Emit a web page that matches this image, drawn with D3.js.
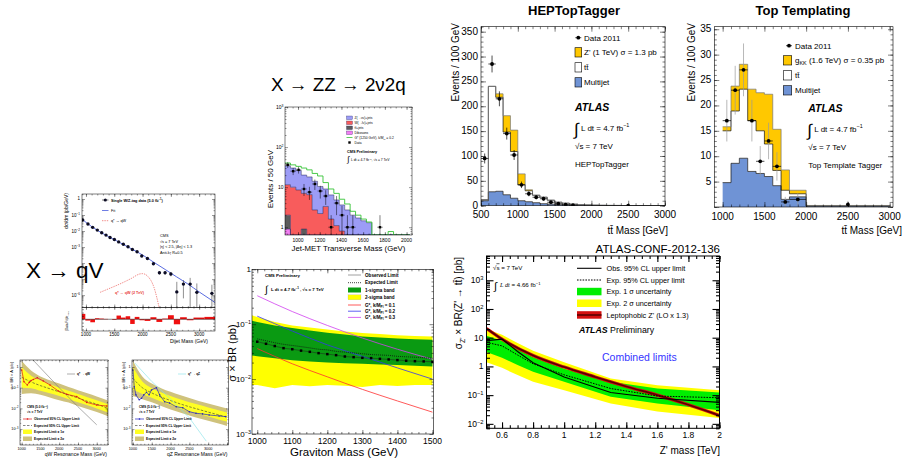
<!DOCTYPE html>
<html>
<head>
<meta charset="utf-8">
<script src="https://cdn.jsdelivr.net/npm/d3@7"></script>
<style>
  html, body { margin: 0; padding: 0; background: #fff; }
  svg { display: block; font-family: "Liberation Sans", Arial, sans-serif; }
</style>
</head>
<body>
<svg id="slide" width="909" height="458"></svg>
<script>
// ================= data =================
// CMS dijet search, single W/Z-tag (X -> qV)
const dijetMass    = [942,1035,1118,1200,1278,1354,1425,1502,1578,1660,1743,1820,1903,1986,2086,2192,2298,2398,2500,2605,2722,2841,2959,3225];
const dijetXsec    = [4.9e-2,2.75e-2,1.7e-2,1.15e-2,7.9e-3,5.6e-3,4.0e-3,3.0e-3,2.1e-3,1.5e-3,1.05e-3,7.0e-4,5.1e-4,2.8e-4,1.95e-4,9.1e-5,2.5e-5,2.5e-5,2.1e-5,1.6e-6,4.9e-6,4.9e-6,1.5e-6,1.3e-6];
const dijetErrHi   = [4.9e-2,2.75e-2,1.7e-2,1.15e-2,7.9e-3,5.6e-3,4.0e-3,3.0e-3,2.1e-3,1.5e-3,1.05e-3,7.0e-4,5.1e-4,2.8e-4,1.95e-4,1.1e-4,3.2e-5,3.2e-5,2.8e-5,6.8e-6,8.7e-6,1.2e-5,5.4e-6,4.5e-6];
const dijetErrLo   = [4.9e-2,2.75e-2,1.7e-2,1.15e-2,7.9e-3,5.6e-3,4.0e-3,3.0e-3,2.1e-3,1.5e-3,1.05e-3,7.0e-4,5.1e-4,2.8e-4,1.95e-4,7.5e-5,1.9e-5,1.9e-5,1.5e-5,1e-9,6.3e-7,1e-9,1e-9,1e-9];
const dijetPull    = [1.6,-0.4,-0.9,0.3,0.2,0.1,0.0,-0.2,1.1,0.5,0.9,-1.4,0.7,-0.3,-0.5,0.6,-0.8,0.2,1.2,-1.5,0.6,-0.3,0.5,0.7];
const dijetFitMass = [930,1000,1200,1400,1600,1800,2000,2200,2400,2600,2800,3000,3280];
const dijetFit     = [5.6e-2,3.5e-2,1.12e-2,4.5e-3,1.9e-3,7.9e-4,3.2e-4,1.12e-4,4.0e-5,1.4e-5,5.0e-6,1.6e-6,3.5e-7];
const qstarMass    = [1250,1400,1600,1800,1950,2000,2100,2200,2300];
const qstarXsec    = [1.5e-6,2.5e-6,5.0e-6,1.1e-5,2.1e-5,2.2e-5,1.4e-5,3.2e-6,1.3e-7];
const dijetYLabels = [0,-1,-2,-3,-6];   // decade labels left of the frame

// CMS q* -> qW limits
const qwMass    = [1000,1250,1500,1750,2000,2250,2500,2750,3000,3300];
const qwExp     = [0.32,0.19,0.126,0.089,0.063,0.045,0.032,0.022,0.016,0.010];
const qw1Hi     = [1.0,0.38,0.22,0.148,0.10,0.071,0.05,0.035,0.025,0.016];
const qw1Lo     = [0.10,0.095,0.071,0.054,0.04,0.028,0.02,0.014,0.010,0.0063];
const qw2Hi     = [2.0,0.68,0.35,0.23,0.16,0.107,0.076,0.054,0.038,0.024];
const qw2Lo     = [0.05,0.054,0.045,0.034,0.025,0.019,0.013,0.0093,0.0066,0.0042];
const qwObsMass = [1000,1061,1149,1200,1250,1309,1416,1576,1755,1976,2200,2467,2733,3000,3267];
const qwObs     = [0.72,0.195,0.135,0.18,0.22,0.25,0.30,0.21,0.135,0.069,0.048,0.037,0.0195,0.0145,0.013];
const qwThMass  = [1300,1600,2000,2500,3000];
const qwTh      = [2.2,0.58,0.10,0.012,0.0016];

// CMS q* -> qZ limits
const qzMass    = [1000,1250,1500,1750,2000,2250,2500,2750,3000,3250,3500];
const qzExp     = [0.28,0.10,0.056,0.035,0.024,0.0166,0.012,0.0089,0.0066,0.0050,0.0038];
const qz1Hi     = [1.0,0.20,0.095,0.059,0.040,0.0275,0.020,0.0148,0.011,0.0083,0.0063];
const qz1Lo     = [0.079,0.05,0.033,0.0214,0.0145,0.010,0.0072,0.0054,0.0040,0.0030,0.0023];
const qz2Hi     = [2.0,0.35,0.158,0.095,0.063,0.044,0.032,0.023,0.0174,0.0132,0.010];
const qz2Lo     = [0.040,0.028,0.020,0.0132,0.0089,0.0063,0.0045,0.0033,0.0025,0.0019,0.0014];
const qzObsMass = [1000,1034,1079,1166,1229,1290,1361,1429,1492,1624,1710,1842,1974,2150,2324,2500,2676,2850,3026,3290,3466];
const qzObs     = [0.72,0.112,0.045,0.026,0.031,0.045,0.060,0.045,0.078,0.10,0.045,0.021,0.018,0.012,0.0107,0.0069,0.0058,0.0054,0.0048,0.0043,0.0040];
const qzThMass  = [1050,1500,2000,2500,2950];
const qzTh      = [1.55,0.20,0.028,0.0035,0.00026];

// CMS ZZ -> 2nu2q, jet-MET transverse mass (50 GeV bins)
const zzEdges   = [880,930,980,1030,1080,1130,1180,1230,1280,1330,1380,1430,1480,1530,1580,1630,1680,1730,1780,1830,1880,1930,1980,2030];
const zzZjets   = [22.5,20,17.5,13,11.5,11.3,8.2,5.7,4.8,3.7,2.8,2.1,1.7,1.7,1.45,1.3,0,0,0,0,0,0,0];
const zzWjets   = [9.5,10,8.5,6.1,6.5,2.7,2.2,3.3,1.6,1.1,0.8,0.6,0.3,0,0,0,0,0,0,0,0,0,0];
const zzTtbar   = [1.1,0,0,0.9,0,0,0,0,0,0,0,0,0,0,0,0,0,0,0,0,0,0,0];
const zzDiboson = [0.9,0,0,0,0,0,0,0,0,0,0,0,0,0,0,0,0,0,0,0,0,0,0];
const zzSignal  = [6,6,7,10,9,8,8.6,4,2.6,2.2,1.4,1.1,0.5,0.3,0.15,0.05,0,0,0,0.78,0,0,0];
const zzData    = [36,25,27,9,7.5,12,8,6,1,4,2,1,1,0,0,0,0,1,0,0,0,0,0];
const zzDataErr = [6,5,5.2,3,2.7,3.5,2.8,2.4,1,2,1.4,1,1,0,0,0,0,1,0,0,0,0,0];

// CMS graviton limits
const gravMass    = [1000,1025,1050,1075,1100,1125,1150,1175,1200,1225,1250,1275,1300,1325,1350,1375,1400,1425,1450,1475,1500];
const gravObs     = [0.048,0.044,0.040,0.0366,0.035,0.033,0.0314,0.0297,0.0285,0.0273,0.0258,0.0251,0.0244,0.0241,0.0234,0.0228,0.0222,0.0216,0.0212,0.021,0.0207];
const gravExp     = [0.054,0.050,0.046,0.043,0.041,0.039,0.037,0.035,0.034,0.032,0.031,0.030,0.029,0.028,0.0275,0.027,0.026,0.0255,0.025,0.0245,0.024];
const gravBandMass= [985,1000,1050,1100,1150,1200,1250,1300,1350,1400,1450,1500];
const grav1Hi     = [0.115,0.11,0.095,0.085,0.077,0.07,0.065,0.06,0.057,0.055,0.053,0.052];
const grav1Lo     = [0.027,0.026,0.024,0.022,0.021,0.02,0.0195,0.019,0.0185,0.018,0.0175,0.017];
const grav2Hi     = [0.145,0.135,0.11,0.095,0.087,0.08,0.074,0.069,0.066,0.063,0.061,0.06];
const grav2Lo     = [0.0078,0.0078,0.0068,0.0078,0.0074,0.0078,0.0076,0.0072,0.0078,0.0075,0.0078,0.0078];
const gravThMass  = [1000,1100,1200,1300,1400,1500];
const gravK01     = [0.036,0.019,0.011,0.0065,0.004,0.0025];
const gravK02     = [0.14,0.075,0.042,0.026,0.016,0.010];
const gravK03     = [0.33,0.17,0.095,0.056,0.035,0.023];

// ATLAS HEPTopTagger (100 GeV bins)
const hepEdges    = [500,600,700,800,900,1000,1100,1200,1300,1400,1500,1600,1700,1800,1900,2000,2100,2200,2300,2400,2500,2600,2700,2800,2900,3000];
const hepMultijet = [10,28,29,22,15,10,8,6,4,3,2,1.5,1,0.8,0.6,0.5,0.4,0.3,0.3,0.2,0.2,0.2,0.1,0.1,0.1];
const hepTtbar    = [2,212,189,126,94,32,22,15,13,8,5,3.5,2,1.2,0.9,0.5,0.4,0.3,0.2,0.2,0.1,0.1,0.1,0.1,0.1];
const hepZprime   = [0,0,7,33,43,22,2,0,0,0,0,0,0,0,0,0,0,0,0,0,0,0,0,0,0];
const hepDataMass = [550,650,750,850,950,1050,1150,1250,1350,1450,1550,1650,1750,2500];
const hepData     = [95,285,215,145,102,42,24,17,14,7,4,2,1,0.3];
const hepDataErr  = [10,17,15,12,10,6.5,5,4,3.7,2.6,2,1.4,1,0.5];
const hepDataXErr = [50,50,50,50,50,50,50,50,50,50,50,50,50,0];

// ATLAS Top Template Tagger
const ttEdges     = [1000,1100,1200,1300,1400,1500,1600,1700,1800,1900,2000,3000];
const ttMultijet  = [4.8,8.6,9.6,7.0,6.6,6.0,4.2,1.5,2.0,2.0,0.15];
const ttTtbar     = [10.2,10.3,13.6,10.0,8.4,6.4,3.0,1.8,0.6,0.6,0.1];
const ttGkk       = [0.8,4.9,4.9,6.2,7.5,9.8,8.1,4.0,0.7,0.7,0.05];
const ttDataMass  = [1050,1150,1250,1350,1450,1550,1650,1750,1900,2500];
const ttData      = [17,23,27,17,9,13,8,1,1.5,0.5];
const ttDataErr   = [4.1,4.8,5.2,4.1,3,3.6,2.8,1,1.2,0.7];
const ttDataXErr  = [50,50,50,50,50,50,50,50,100,0];

// ATLAS Z' -> ttbar combined limits
const zpMass   = [0.5,0.6,0.7,0.8,1.0,1.3,1.6,2.0];
const zpObs    = [7.9,8.9,3.3,1.35,0.43,0.123,0.078,0.056];
const zpExp    = [6.9,5.2,2.5,1.23,0.51,0.17,0.093,0.081];
const zp1Hi    = [11.7,7.9,4.0,2.1,0.83,0.29,0.17,0.123];
const zp1Lo    = [3.2,2.0,1.12,0.65,0.29,0.087,0.051,0.030];
const zp2Hi    = [20,12.6,6.6,3.5,1.41,0.38,0.22,0.148];
const zp2Lo    = [1.41,0.89,0.5,0.29,0.148,0.051,0.027,0.016];
const zpThMass = [0.5,0.6,0.8,1.0,1.2,1.3,1.4,1.6,1.8,2.0];
const zpTh     = [21,8.9,2.4,0.95,0.43,0.29,0.2,0.1,0.046,0.0195];

// ================= helpers =================
const svg = d3.select("#slide");
svg.append("rect").attr("width", 909).attr("height", 458).attr("fill", "#fff");
const defs = svg.append("defs");
let clipN = 0;
function clipRect(x0, y0, x1, y1) {
  const id = "clip" + (clipN++);
  defs.append("clipPath").attr("id", id).append("rect")
    .attr("x", x0).attr("y", y0).attr("width", x1 - x0).attr("height", y1 - y0);
  return `url(#${id})`;
}
function T(g, x, y, s, o = {}) {
  const t = g.append("text").attr("x", x).attr("y", y)
    .attr("font-size", o.size || 8).attr("fill", o.fill || "#000")
    .attr("text-anchor", o.anchor || "start");
  if (o.weight) t.attr("font-weight", o.weight);
  if (o.italic) t.attr("font-style", "italic");
  if (o.family) t.attr("font-family", o.family);
  if (o.rotate) t.attr("transform", `rotate(${o.rotate},${x},${y})`);
  if (s !== null) t.text(s);
  return t;
}
// text built from runs: plain strings or [string, "sup"|"sub"|null, extra attributes]
function R(g, x, y, parts, o = {}) {
  const t = T(g, x, y, null, o);
  const fs = o.size || 8;
  let cur = 0;
  parts.forEach(p => {
    const [s, k, ex] = Array.isArray(p) ? p : [p, null, null];
    const target = k === "sup" ? -0.38 * fs : k === "sub" ? 0.28 * fs : 0;
    const ts = t.append("tspan").attr("dy", target - cur).text(s);
    if (k) ts.attr("font-size", fs * 0.68);
    if (ex) Object.entries(ex).forEach(([a, v]) => ts.attr(a, v));
    cur = target;
  });
  return t;
}
function pow10(g, x, y, e, size, anchor = "end") {
  if (e === 0) return T(g, x, y, "1", { size, anchor });
  if (e === 1) return T(g, x, y, "10", { size, anchor });
  return R(g, x, y, ["10", [String(e).replace("-", "\u2212"), "sup"]], { size, anchor });
}
function frame(g, x0, y0, x1, y1, sw = 0.6) {
  g.append("rect").attr("x", x0).attr("y", y0).attr("width", x1 - x0).attr("height", y1 - y0)
    .attr("fill", "none").attr("stroke", "#000").attr("stroke-width", sw);
}
function tickMarks(g, scale, orient, pos, values, len, sw = 0.5) {
  const gen = { bottom: d3.axisBottom, top: d3.axisTop, left: d3.axisLeft, right: d3.axisRight }[orient];
  const tr = (orient === "bottom" || orient === "top") ? `translate(0,${pos})` : `translate(${pos},0)`;
  g.append("g").attr("transform", tr)
    .call(gen(scale).tickValues(values).tickSizeInner(-len).tickSizeOuter(0).tickFormat(""))
    .call(a => {
      a.select(".domain").remove();
      a.selectAll("text").remove();
      a.selectAll("line").attr("stroke", "#000").attr("stroke-width", sw);
    });
}
// ticks on all four sides of a frame
function boxTicks(g, x, y, X0, Y0, X1, Y1, xs, ys, sw = 0.5) {
  xs.forEach(([vals, len]) => { tickMarks(g, x, "bottom", Y1, vals, len, sw); tickMarks(g, x, "top", Y0, vals, len, sw); });
  ys.forEach(([vals, len]) => { tickMarks(g, y, "left", X0, vals, len, sw); tickMarks(g, y, "right", X1, vals, len, sw); });
}
function logMinors(lo, hi) {
  const out = [];
  for (let e = Math.floor(Math.log10(lo)); e <= Math.ceil(Math.log10(hi)); e++)
    for (let k = 2; k < 10; k++) { const v = k * Math.pow(10, e); if (v >= lo && v <= hi) out.push(v); }
  return out;
}
function decades(lo, hi) {
  const out = [];
  for (let e = Math.ceil(Math.log10(lo) - 1e-9); e <= Math.floor(Math.log10(hi) + 1e-9); e++) out.push(e);
  return out;
}
const rng = (a, b, s) => d3.range(a, b + s * 0.001, s);
function stepPts(edges, lo, hi) {
  const pts = [];
  lo.forEach((l, i) => {
    pts.push({ x: edges[i], y0: l, y1: hi[i] });
    pts.push({ x: edges[i + 1], y0: l, y1: hi[i] });
  });
  return pts;
}

// ================= X -> qV : dijet spectrum =================
(function () {
  const g = svg.append("g");
  const X0 = 82, X1 = 215, Y0 = 194, YB = 307.5, YR = 331;
  const x = d3.scaleLinear().domain([930, 3280]).range([X0, X1]);
  const y = d3.scaleLog().domain([1.7e-7, 2.05]).range([YB, Y0]);
  const yr = d3.scaleLinear().domain([-3.5, 3.5]).range([YR, YB]);
  const pl = g.append("g").attr("clip-path", clipRect(X0, Y0, X1, YB));
  const line = d3.line().x(d => x(d[0])).y(d => y(d[1])).curve(d3.curveMonotoneX);
  pl.append("path").attr("d", line(d3.zip(dijetFitMass, dijetFit)))
    .attr("fill", "none").attr("stroke", "#3046d8").attr("stroke-width", 0.8);
  pl.append("path").attr("d", line(d3.zip(qstarMass, qstarXsec)))
    .attr("fill", "none").attr("stroke", "#e8403a").attr("stroke-width", 0.6).attr("stroke-dasharray", "1.4,1");
  dijetMass.forEach((m, i) => {
    pl.append("line").attr("x1", x(m)).attr("x2", x(m))
      .attr("y1", y(Math.max(dijetErrLo[i], 1e-8))).attr("y2", y(dijetErrHi[i]))
      .attr("stroke", "#222").attr("stroke-width", 0.5);
  });
  pl.selectAll("circle").data(dijetMass).join("circle")
    .attr("cx", d => x(d)).attr("cy", (d, i) => y(dijetXsec[i])).attr("r", 1.7).attr("fill", "#0c0c24");
  frame(g, X0, Y0, X1, YB, 0.5);
  boxTicks(g, x, y, X0, Y0, X1, YB,
    [[rng(1000, 3000, 500), 3], [rng(1000, 3200, 100), 1.5]],
    [[decades(1.7e-7, 2.05).map(e => Math.pow(10, e)), 3], [logMinors(1.7e-7, 2.05), 1.5]], 0.4);
  dijetYLabels.forEach(e => pow10(g, X0 - 2, y(Math.pow(10, e)) + 1.5, e, 4.5));

  // residual panel
  const edges = dijetMass.map((m, i) => i === 0 ? 930 : (dijetMass[i - 1] + m) / 2);
  edges.push(3280);
  dijetPull.forEach((p, i) => {
    g.append("rect").attr("x", x(edges[i])).attr("width", x(edges[i + 1]) - x(edges[i]))
      .attr("y", Math.min(yr(0), yr(p))).attr("height", Math.abs(yr(p) - yr(0))).attr("fill", "#f01010");
  });
  g.append("line").attr("x1", X0).attr("x2", X1).attr("y1", yr(0)).attr("y2", yr(0)).attr("stroke", "#000").attr("stroke-width", 0.5);
  frame(g, X0, YB, X1, YR, 0.5);
  boxTicks(g, x, yr, X0, YB, X1, YR,
    [[rng(1000, 3000, 500), 2.5], [rng(1000, 3200, 100), 1.2]],
    [[[-3, -2, -1, 0, 1, 2, 3], 2]], 0.4);
  rng(1000, 3000, 500).forEach(v => T(g, x(v), 336, String(v), { size: 4.6, anchor: "middle" }));
  T(g, 208, 342.5, "Dijet Mass (GeV)", { size: 5, anchor: "end" });
  T(g, 68, 193, "d\u03c3/dm (pb/GeV)", { size: 5, anchor: "end", rotate: -90 });
  R(g, 68, 331, ["(Data-Fit)/\u03c3", ["Data", "sub"]], { size: 3, anchor: "start", rotate: -90 });

  // legend
  g.append("line").attr("x1", 102).attr("x2", 108.5).attr("y1", 200).attr("y2", 200).attr("stroke", "#000").attr("stroke-width", 0.5);
  g.append("circle").attr("cx", 105.3).attr("cy", 200).attr("r", 1.6).attr("fill", "#0c0c24");
  R(g, 111, 201.5, ["Single W/Z-tag data (5.0 fb", ["\u22121", "sup"], ")"], { size: 3.8, weight: "bold" });
  g.append("line").attr("x1", 102).attr("x2", 108.5).attr("y1", 210.5).attr("y2", 210.5).attr("stroke", "#3046d8").attr("stroke-width", 0.7);
  T(g, 111, 212, "Fit", { size: 3.8 });
  g.append("line").attr("x1", 102).attr("x2", 108.5).attr("y1", 220.7).attr("y2", 220.7).attr("stroke", "#e8403a").attr("stroke-width", 0.6).attr("stroke-dasharray", "1.4,1");
  T(g, 111, 222, "q* \u2192 qW", { size: 3.8 });
  T(g, 160, 237, "CMS", { size: 3.8 });
  T(g, 160, 242.5, "\u221as = 7 TeV", { size: 3.8 });
  T(g, 160, 248, "|\u03b7| < 2.5, |\u0394\u03b7| < 1.3", { size: 3.8 });
  R(g, 160, 253.5, ["Anti-k", ["T", "sub"], " R=0.5"], { size: 3.8 });
  T(g, 115, 294, "q* \u2192 qW (2 TeV)", { size: 3.8, fill: "#e8403a", weight: "bold" });
})();

// ================= CMS q* limits (qW, qZ) =================
function qLimitPanel(c) {
  const g = svg.append("g");
  const x = d3.scaleLinear().domain(c.xDom).range([c.X0, c.X1]);
  const y = d3.scaleLog().domain([1.7e-4, 2.18]).range([c.Y1, c.Y0]);
  const pl = g.append("g").attr("clip-path", clipRect(c.X0, c.Y0, c.X1, c.Y1));
  const band = (lo, hi) => d3.area().x((d, i) => x(c.mass[i])).y0((d, i) => y(lo[i])).y1((d, i) => y(hi[i])).curve(d3.curveMonotoneX)(c.mass);
  pl.append("path").attr("d", band(c.s2Lo, c.s2Hi)).attr("fill", "#cfc27c");
  pl.append("path").attr("d", band(c.s1Lo, c.s1Hi)).attr("fill", "#ffff22");
  const line = d3.line().x(d => x(d[0])).y(d => y(d[1]));
  pl.append("path").attr("d", line.curve(d3.curveMonotoneX)(d3.zip(c.mass, c.exp)))
    .attr("fill", "none").attr("stroke", "#333").attr("stroke-width", 0.6).attr("stroke-dasharray", "2.5,1.5");
  pl.append("path").attr("d", d3.line().x(d => x(d[0])).y(d => y(d[1]))(d3.zip(c.thMass, c.th)))
    .attr("fill", "none").attr("stroke", c.thColor).attr("stroke-width", 0.6);
  pl.append("path").attr("d", d3.line().x(d => x(d[0])).y(d => y(d[1]))(d3.zip(c.obsMass, c.obs)))
    .attr("fill", "none").attr("stroke", c.obsColor).attr("stroke-width", 0.7);
  pl.selectAll("circle").data(c.obsMass).join("circle")
    .attr("cx", d => x(d)).attr("cy", (d, i) => y(c.obs[i])).attr("r", 0.8).attr("fill", c.obsColor);
  frame(g, c.X0, c.Y0, c.X1, c.Y1, 0.5);
  boxTicks(g, x, y, c.X0, c.Y0, c.X1, c.Y1,
    [[rng(1000, c.xMaxTick, 500), 2.5], [rng(1000, c.xMaxTick, 100), 1.2]],
    [[[1e-3, 1e-2, 1e-1, 1], 2.5], [logMinors(1.7e-4, 2.18), 1.2]], 0.4);
  [-3, -2, -1, 0].forEach(e => pow10(g, c.X0 - 1.5, y(Math.pow(10, e)) + 1.3, e, 3.8));
  rng(1000, 3000, 500).forEach(v => T(g, x(v), 449.5, String(v), { size: 3.8, anchor: "middle" }));
  T(g, c.X1 - 1, 455.5, c.xTitle, { size: 5, anchor: "end" });
  T(g, c.X0 - 7.5, 362, "\u03c3 \u00d7 BR \u00d7 A (pb)", { size: 4, anchor: "end", rotate: -90 });
  // legend
  const lx = c.X0 + 3, tx = c.X0 + 14;
  R(g, lx + 4, c.Y1 - 37, ["CMS (5.0 fb", ["\u22121", "sup"], ")"], { size: 3.2, weight: "bold" });
  T(g, lx + 4, c.Y1 - 32.5, "\u221as = 7 TeV", { size: 3.2, weight: "bold" });
  g.append("line").attr("x1", lx).attr("x2", lx + 9).attr("y1", c.Y1 - 26).attr("y2", c.Y1 - 26).attr("stroke", c.obsColor).attr("stroke-width", 0.7);
  g.append("circle").attr("cx", lx + 4.5).attr("cy", c.Y1 - 26).attr("r", 0.8).attr("fill", c.obsColor);
  T(g, tx, c.Y1 - 24.8, "Observed 95% CL Upper Limit", { size: 3.2, weight: "bold" });
  g.append("line").attr("x1", lx).attr("x2", lx + 9).attr("y1", c.Y1 - 19.5).attr("y2", c.Y1 - 19.5).attr("stroke", "#333").attr("stroke-width", 0.6).attr("stroke-dasharray", "2.5,1.5");
  T(g, tx, c.Y1 - 18.3, "Expected 95% CL Upper Limit", { size: 3.2, weight: "bold" });
  g.append("rect").attr("x", lx).attr("y", c.Y1 - 15.5).attr("width", 9).attr("height", 4.5).attr("fill", "#ffff22");
  T(g, tx, c.Y1 - 12, "Expected Limit \u00b1 1\u03c3", { size: 3.2, weight: "bold" });
  g.append("rect").attr("x", lx).attr("y", c.Y1 - 8.5).attr("width", 9).attr("height", 4.5).attr("fill", "#cfc27c");
  T(g, tx, c.Y1 - 5, "Expected Limit \u00b1 2\u03c3", { size: 3.2, weight: "bold" });
  g.append("line").attr("x1", c.thLegX).attr("x2", c.thLegX + 8).attr("y1", c.Y0 + 14).attr("y2", c.Y0 + 14).attr("stroke", c.thColor).attr("stroke-width", 0.6);
  T(g, c.thLegX + 10, c.Y0 + 15.2, c.thLabel, { size: 3.2, weight: "bold" });
}
qLimitPanel({
  X0: 20, X1: 108, Y0: 360, Y1: 445, xDom: [955, 3300], xMaxTick: 3300,
  mass: qwMass, exp: qwExp, s1Lo: qw1Lo, s1Hi: qw1Hi, s2Lo: qw2Lo, s2Hi: qw2Hi,
  obsMass: qwObsMass, obs: qwObs, obsColor: "#e01818",
  thMass: qwThMass, th: qwTh, thColor: "#777", thLabel: "q* \u2192 qW", thLegX: 67,
  xTitle: "qW Resonance Mass (GeV)"
});
qLimitPanel({
  X0: 132, X1: 228.5, Y0: 360, Y1: 445, xDom: [975, 3540], xMaxTick: 3500,
  mass: qzMass, exp: qzExp, s1Lo: qz1Lo, s1Hi: qz1Hi, s2Lo: qz2Lo, s2Hi: qz2Hi,
  obsMass: qzObsMass, obs: qzObs, obsColor: "#2424c0",
  thMass: qzThMass, th: qzTh, thColor: "#7fe0e8", thLabel: "q* \u2192 qZ", thLegX: 178,
  xTitle: "qZ Resonance Mass (GeV)"
});

// ================= X -> ZZ -> 2nu2q : jet-MET transverse mass =================
(function () {
  const g = svg.append("g");
  const X0 = 285, X1 = 412, Y0 = 107, Y1 = 235, YMIN = 0.64;
  const x = d3.scaleLinear().domain([880, 2050]).range([X0, X1]);
  const y = d3.scaleLog().domain([YMIN, 1000]).range([Y1, Y0]);
  const pl = g.append("g").attr("clip-path", clipRect(X0, Y0, X1, Y1));
  const rows = zzZjets.map((d, i) => ({ dib: zzDiboson[i], tt: zzTtbar[i], wj: zzWjets[i], zj: zzZjets[i], sig: zzSignal[i] }));
  const stack = d3.stack().keys(["dib", "tt", "wj", "zj", "sig"])(rows);
  const fills = { dib: "#f27ef2", tt: "#5c5c5c", wj: "#f85c5c", zj: "#9c9cf6", sig: "#ffffff" };
  const area = d3.area().x(p => x(p.x)).y0(p => y(Math.max(p.y0, YMIN))).y1(p => y(Math.max(p.y1, YMIN)));
  const top = d3.line().x(p => x(p.x)).y(p => y(Math.max(p.y1, YMIN)));
  stack.forEach(s => {
    const pts = stepPts(zzEdges, s.map(d => d[0]), s.map(d => d[1]));
    pl.append("path").attr("d", area(pts)).attr("fill", fills[s.key]);
  });
  stack.forEach(s => {
    const pts = stepPts(zzEdges, s.map(d => d[0]), s.map(d => d[1]));
    pl.append("path").attr("d", top(pts)).attr("fill", "none")
      .attr("stroke", s.key === "sig" ? "#36c436" : "#20205a").attr("stroke-width", s.key === "sig" ? 0.9 : 0.5);
  });
  zzData.forEach((v, i) => {
    if (!v) return;
    const cx = x((zzEdges[i] + zzEdges[i + 1]) / 2);
    pl.append("line").attr("x1", cx).attr("x2", cx).attr("y1", y(Math.max(v - zzDataErr[i], 0.3))).attr("y2", y(v + zzDataErr[i]))
      .attr("stroke", "#000").attr("stroke-width", 0.5);
    pl.append("line").attr("x1", x(zzEdges[i])).attr("x2", x(zzEdges[i + 1])).attr("y1", y(v)).attr("y2", y(v))
      .attr("stroke", "#000").attr("stroke-width", 0.5);
    pl.append("rect").attr("x", cx - 1.2).attr("y", y(v) - 1.2).attr("width", 2.4).attr("height", 2.4).attr("fill", "#000");
  });
  frame(g, X0, Y0, X1, Y1, 0.5);
  boxTicks(g, x, y, X0, Y0, X1, Y1,
    [[rng(1000, 2000, 200), 3], [rng(900, 2050, 50), 1.5]],
    [[[1, 10, 100, 1000], 3], [logMinors(YMIN, 1000), 1.5]], 0.4);
  [0, 1, 2, 3].forEach(e => pow10(g, X0 - 1.5, y(Math.pow(10, e)) + 1.8, e, 5));
  rng(1000, 2000, 200).forEach(v => T(g, x(v), 241.5, String(v), { size: 5, anchor: "middle" }));
  T(g, 348.5, 251, "Jet-MET Transverse Mass (GeV)", { size: 7.8, anchor: "middle" });
  T(g, 273, 150, "Events / 50 GeV", { size: 8, anchor: "end", rotate: -90 });
  // legend
  const items = [["Z(\u2192\u03bd\u03bd)+jets", "#9c9cf6"], ["W(\u2192l\u03bd)+jets", "#f85c5c"], ["t\u0074\u0304+jets", "#5c5c5c"], ["Dibosons", "#f27ef2"]];
  items.forEach(([lab, col], i) => {
    g.append("rect").attr("x", 346.5).attr("y", 116 + i * 5).attr("width", 6).attr("height", 3.6).attr("fill", col).attr("stroke", "#20205a").attr("stroke-width", 0.3);
    T(g, 354.5, 119.2 + i * 5, lab, { size: 3.3 });
  });
  g.append("line").attr("x1", 346.5).attr("x2", 352.5).attr("y1", 137.5).attr("y2", 137.5).attr("stroke", "#36c436").attr("stroke-width", 0.8);
  R(g, 354.5, 138.8, ["G* (1250 GeV), k/M", ["Pl", "sub"], " = 0.2"], { size: 3.3 });
  g.append("rect").attr("x", 348.3).attr("y", 141.3).attr("width", 2.4).attr("height", 2.4).attr("fill", "#000");
  T(g, 354.5, 143.8, "Data", { size: 3.3 });
  T(g, 347, 152.5, "CMS Preliminary", { size: 3.8, weight: "bold" });
  T(g, 347, 162, "\u222b", { size: 8 });
  R(g, 351, 160.8, ["L dt = 4.7 fb", ["\u22121", "sup"], ", \u221as = 7 TeV"], { size: 3.4 });
})();

// ================= CMS graviton limits =================
(function () {
  const g = svg.append("g");
  const X0 = 252, X1 = 433.5, Y0 = 269.3, Y1 = 434;
  const x = d3.scaleLinear().domain([985, 1503]).range([X0, X1]);
  const y = d3.scaleLog().domain([1e-3, 1]).range([Y1, Y0]);
  const pl = g.append("g").attr("clip-path", clipRect(X0, Y0, X1, Y1));
  const band = (lo, hi) => d3.area().x((d, i) => x(gravBandMass[i])).y0((d, i) => y(lo[i])).y1((d, i) => y(hi[i]))(gravBandMass);
  pl.append("path").attr("d", band(grav2Lo, grav2Hi)).attr("fill", "#ffff00");
  pl.append("path").attr("d", band(grav1Lo, grav1Hi)).attr("fill", "#0a9a12");
  const line = d3.line().x(d => x(d[0])).y(d => y(d[1])).curve(d3.curveMonotoneX);
  [[gravK01, "#ff3030"], [gravK02, "#3636f0"], [gravK03, "#d040f0"]].forEach(([vals, col]) => {
    pl.append("path").attr("d", line(d3.zip(gravThMass, vals))).attr("fill", "none").attr("stroke", col).attr("stroke-width", 0.8);
  });
  pl.append("path").attr("d", line(d3.zip(gravMass, gravExp))).attr("fill", "none").attr("stroke", "#111").attr("stroke-width", 0.8).attr("stroke-dasharray", "1,1");
  pl.append("path").attr("d", line(d3.zip(gravMass, gravObs))).attr("fill", "none").attr("stroke", "#222").attr("stroke-width", 0.5);
  pl.selectAll("rect.pt").data(gravMass).join("rect").attr("class", "pt")
    .attr("x", d => x(d) - 1.25).attr("y", (d, i) => y(gravObs[i]) - 1.25).attr("width", 2.5).attr("height", 2.5).attr("fill", "#000");
  frame(g, X0, Y0, X1, Y1, 0.6);
  boxTicks(g, x, y, X0, Y0, X1, Y1,
    [[rng(1000, 1500, 100), 4], [rng(1000, 1500, 20), 2]],
    [[[1e-3, 1e-2, 1e-1, 1], 4], [logMinors(1e-3, 1), 2]], 0.5);
  [-3, -2, -1, 0].forEach(e => pow10(g, X0 - 1, y(Math.pow(10, e)) + 3, e, 8));
  rng(1000, 1500, 100).forEach(v => T(g, x(v), 444, String(v), { size: 8.5, anchor: "middle" }));
  T(g, 344, 456, "Graviton Mass (GeV)", { size: 11.5, anchor: "middle" });
  T(g, 235.5, 353, "\u03c3 \u00d7 BR (pb)", { size: 11, anchor: "middle", rotate: -90 });
  // legend
  T(g, 265, 277, "CMS Preliminary", { size: 4.4, weight: "bold" });
  T(g, 265, 293, "\u222b", { size: 10 });
  R(g, 271, 290.5, ["L dt = 4.7 fb", ["\u22121", "sup"], " , \u221as = 7 TeV"], { size: 4.4, weight: "bold" });
  const lx0 = 348, lx1 = 361, tx = 365;
  g.append("line").attr("x1", lx0).attr("x2", lx1).attr("y1", 275).attr("y2", 275).attr("stroke", "#888").attr("stroke-width", 0.8);
  T(g, tx, 276.6, "Observed Limit", { size: 4.6, weight: "bold" });
  g.append("line").attr("x1", lx0).attr("x2", lx1).attr("y1", 282.7).attr("y2", 282.7).attr("stroke", "#111").attr("stroke-width", 0.8).attr("stroke-dasharray", "1,1");
  T(g, tx, 284.3, "Expected Limit", { size: 4.6, weight: "bold" });
  g.append("rect").attr("x", lx0).attr("y", 287.5).attr("width", lx1 - lx0).attr("height", 5).attr("fill", "#0a9a12");
  T(g, tx, 291.6, "1-sigma band", { size: 4.6, weight: "bold" });
  g.append("rect").attr("x", lx0).attr("y", 294.8).attr("width", lx1 - lx0).attr("height", 5).attr("fill", "#ffff00").attr("stroke", "#999").attr("stroke-width", 0.2);
  T(g, tx, 298.9, "2-sigma band", { size: 4.6, weight: "bold" });
  [["0.1", "#ff3030", 305], ["0.2", "#3636f0", 311.2], ["0.3", "#d040f0", 317.4]].forEach(([k, col, yy]) => {
    g.append("line").attr("x1", lx0).attr("x2", lx1).attr("y1", yy).attr("y2", yy).attr("stroke", col).attr("stroke-width", 0.8);
    R(g, tx, yy + 1.6, ["G*, k/M", ["Pl", "sub"], " = " + k], { size: 4.6, weight: "bold" });
  });
})();

// ================= ATLAS tt resonance spectra =================
function atlasHist(c) {
  const g = svg.append("g");
  const x = d3.scaleLinear().domain(c.xDom).range([c.X0, c.X1]);
  const y = d3.scaleLinear().domain(c.yDom).range([c.Y1, c.Y0]);
  const pl = g.append("g").attr("clip-path", clipRect(c.X0, c.Y0, c.X1, c.Y1));
  const rows = c.mj.map((d, i) => ({ multijet: c.mj[i], ttbar: c.tt[i], signal: c.sig[i] }));
  const stack = d3.stack().keys(["multijet", "ttbar", "signal"])(rows);
  const fills = { multijet: "#6f93d5", ttbar: "#ffffff", signal: "#ffc800" };
  const area = d3.area().x(p => x(p.x)).y0(p => y(p.y0)).y1(p => y(p.y1));
  const top = d3.line().x(p => x(p.x)).y(p => y(p.y1));
  stack.forEach(s => {
    const pts = stepPts(c.edges, s.map(d => d[0]), s.map(d => d[1]));
    pl.append("path").attr("d", area(pts)).attr("fill", fills[s.key]);
  });
  stack.forEach(s => {
    const pts = stepPts(c.edges, s.map(d => d[0]), s.map(d => d[1]));
    pl.append("path").attr("d", top(pts)).attr("fill", "none")
      .attr("stroke", s.key === "signal" ? "#777" : "#111").attr("stroke-width", 0.7);
  });
  c.dMass.forEach((m, i) => {
    const v = c.data[i];
    pl.append("line").attr("x1", x(m)).attr("x2", x(m)).attr("y1", y(Math.max(v - c.dErr[i], 0))).attr("y2", y(v + c.dErr[i]))
      .attr("stroke", c.errColor).attr("stroke-width", 0.7);
    if (c.dXErr[i]) pl.append("line").attr("x1", x(m - c.dXErr[i])).attr("x2", x(m + c.dXErr[i])).attr("y1", y(v)).attr("y2", y(v))
      .attr("stroke", "#000").attr("stroke-width", 0.7);
    pl.append("circle").attr("cx", x(m)).attr("cy", y(v)).attr("r", 1.9).attr("fill", "#000");
  });
  frame(g, c.X0, c.Y0, c.X1, c.Y1, 0.6);
  boxTicks(g, x, y, c.X0, c.Y0, c.X1, c.Y1,
    [[c.xMajor, 5], [c.xMinor, 2.5]], [[c.yMajor, 5], [c.yMinor, 2.5]], 0.5);
  c.yLabels.forEach(v => T(g, c.X0 - 3, y(v) + 3, String(v), { size: 10, anchor: "end" }));
  c.xLabels.forEach(v => T(g, x(v), c.Y1 + 12.5, String(v), { size: 10, anchor: "middle" }));
  T(g, c.ytX, 23, "Events / 100 GeV", { size: 10, anchor: "end", rotate: -90 });
  T(g, c.xtX, 234, "t\u0074\u0304 Mass [GeV]", { size: 10, anchor: "end" });
  T(g, c.titleX, 15, c.title, { size: 13, anchor: "middle", weight: "bold" });
  // legend
  const L = c.leg;
  g.append("line").attr("x1", L.x - 3).attr("x2", L.x + 3).attr("y1", L.y).attr("y2", L.y).attr("stroke", "#000").attr("stroke-width", 0.7);
  g.append("circle").attr("cx", L.x).attr("cy", L.y).attr("r", 1.9).attr("fill", "#000");
  T(g, L.tx, L.y + 2.8, "Data 2011", { size: 8 });
  [[c.sigLabel, "#ffc800"], [["t\u0074\u0304"], "#fff"], [["Multijet"], "#6f93d5"]].forEach(([lab, col], i) => {
    const yy = L.y + 10 + i * 15;
    g.append("rect").attr("x", L.bx).attr("y", yy).attr("width", L.bw).attr("height", 9.3).attr("fill", col).attr("stroke", "#000").attr("stroke-width", 0.6);
    R(g, L.tx, yy + 7.5, lab, { size: 8 });
  });
  T(g, L.ax, L.ay, "ATLAS", { size: 10.5, weight: "bold", italic: true });
  T(g, L.ax - 1, L.ay + 23.5, "\u222b", { size: 17 });
  R(g, L.ax + 6, L.ay + 19.5, ["L dt = 4.7 fb", ["\u22121", "sup"]], { size: 8 });
  T(g, L.ax, L.ay + 37.5, "\u221as = 7 TeV", { size: 8 });
  T(g, L.ax, L.ay + 55.5, c.tagger, { size: 8 });
}
atlasHist({
  X0: 481, X1: 665, Y0: 26.7, Y1: 205.7, xDom: [500, 3000], yDom: [0, 360],
  edges: hepEdges, mj: hepMultijet, tt: hepTtbar, sig: hepZprime,
  dMass: hepDataMass, data: hepData, dErr: hepDataErr, dXErr: hepDataXErr, errColor: "#000",
  xMajor: rng(500, 3000, 500), xMinor: rng(500, 3000, 100), yMajor: rng(0, 350, 50), yMinor: rng(0, 360, 10),
  yLabels: rng(0, 350, 50), xLabels: rng(500, 3000, 500),
  ytX: 459, xtX: 668, titleX: 574, title: "HEPTopTagger",
  sigLabel: ["Z' (1 TeV) \u03c3 = 1.3 pb"],
  leg: { x: 578.3, y: 37.7, bx: 575, bw: 6.7, tx: 584, ax: 575, ay: 111 },
  tagger: "HEPTopTagger"
});
atlasHist({
  X0: 714.3, X1: 893, Y0: 26.7, Y1: 207, xDom: [900, 3040], yDom: [0, 35.5],
  edges: ttEdges, mj: ttMultijet, tt: ttTtbar, sig: ttGkk,
  dMass: ttDataMass, data: ttData, dErr: ttDataErr, dXErr: ttDataXErr, errColor: "#999",
  xMajor: rng(1000, 3000, 500), xMinor: rng(1000, 3000, 100), yMajor: rng(0, 35, 5), yMinor: rng(0, 35, 1),
  yLabels: rng(5, 35, 5), xLabels: rng(1000, 3000, 500),
  ytX: 695, xtX: 902, titleX: 803, title: "Top Templating",
  sigLabel: ["g", ["KK", "sub"], " (1.6 TeV) \u03c3 = 0.35 pb"],
  leg: { x: 789, y: 45.7, bx: 783.3, bw: 8.4, tx: 795, ax: 808.3, ay: 112 },
  tagger: "Top Template Tagger"
});

// ================= ATLAS Z' -> tt combined limits =================
(function () {
  const g = svg.append("g");
  const X0 = 486.5, X1 = 719.5, Y0 = 256, Y1 = 428.3;
  const x = d3.scaleLinear().domain([0.5, 2.0]).range([X0, X1]);
  const y = d3.scaleLog().domain([0.007, 7000]).range([Y1, Y0]);
  const pl = g.append("g").attr("clip-path", clipRect(X0, Y0, X1, Y1));
  const band = (lo, hi) => d3.area().x((d, i) => x(zpMass[i])).y0((d, i) => y(lo[i])).y1((d, i) => y(hi[i]))(zpMass);
  pl.append("path").attr("d", band(zp2Lo, zp2Hi)).attr("fill", "#ffff00");
  pl.append("path").attr("d", band(zp1Lo, zp1Hi)).attr("fill", "#00ee00");
  const thLine = d3.line().x(d => x(d[0])).y(d => y(d[1])).curve(d3.curveMonotoneX);
  pl.append("path").attr("d", thLine(d3.zip(zpThMass, zpTh))).attr("fill", "none").attr("stroke", "#d41010").attr("stroke-width", 3.2);
  pl.append("path").attr("d", thLine(d3.zip(zpThMass, zpTh))).attr("fill", "none").attr("stroke", "#5a0000").attr("stroke-width", 1.6);
  const line = d3.line().x(d => x(d[0])).y(d => y(d[1]));
  pl.append("path").attr("d", line(d3.zip(zpMass, zpExp))).attr("fill", "none").attr("stroke", "#000").attr("stroke-width", 1).attr("stroke-dasharray", "1.6,1.2");
  pl.append("path").attr("d", line(d3.zip(zpMass, zpObs))).attr("fill", "none").attr("stroke", "#000").attr("stroke-width", 1.1);
  frame(g, X0, Y0, X1, Y1, 1);
  boxTicks(g, x, y, X0, Y0, X1, Y1,
    [[rng(0.6, 2.0, 0.2), 6], [rng(0.5, 2.0, 0.05), 3]],
    [[[0.01, 0.1, 1, 10, 100, 1000], 7], [logMinors(0.007, 7000), 3.5]], 1.1);
  [-2, -1, 0, 1, 2, 3].forEach(e => pow10(g, X0 - 3, y(Math.pow(10, e)) + 3, e, 8.5));
  [0.6, 0.8, 1, 1.2, 1.4, 1.6, 1.8, 2].forEach(v => T(g, x(v), 438, String(v), { size: 8.5, anchor: "middle" }));
  T(g, 720, 454, "Z' mass [TeV]", { size: 10, anchor: "end" });
  R(g, 462, 257, ["\u03c3", ["Z'", "sub"], " \u00d7 BR(Z' \u2192 t\u0074\u0304) [pb]"], { size: 10, anchor: "end", rotate: -90 });
  T(g, 720, 252.5, "ATLAS-CONF-2012-136", { size: 11.5, anchor: "end" });
  // legend
  R(g, 493, 269.5, ["\u221a", ["s", null, { "text-decoration": "overline" }], " = 7 TeV"], { size: 6.2 });
  T(g, 494, 290, "\u222b", { size: 11 });
  R(g, 500, 287, [["L dt", null, { "font-style": "italic", "font-family": "Liberation Serif" }], " = 4.66 fb", ["\u22121", "sup"]], { size: 6.2 });
  const bx0 = 577, bx1 = 601.5, tx = 606.5;
  g.append("line").attr("x1", bx0).attr("x2", bx1).attr("y1", 268.3).attr("y2", 268.3).attr("stroke", "#000").attr("stroke-width", 1.1);
  T(g, tx, 271, "Obs. 95% CL upper limit", { size: 7.3 });
  g.append("line").attr("x1", bx0).attr("x2", bx1).attr("y1", 280).attr("y2", 280).attr("stroke", "#000").attr("stroke-width", 1).attr("stroke-dasharray", "1.6,1.2");
  T(g, tx, 282.7, "Exp. 95% CL upper limit", { size: 7.3 });
  g.append("rect").attr("x", bx0).attr("y", 287.8).attr("width", bx1 - bx0).attr("height", 7.5).attr("fill", "#00ee00");
  T(g, tx, 294.3, "Exp. 1 \u03c3 uncertainty", { size: 7.3 });
  g.append("rect").attr("x", bx0).attr("y", 299.5).attr("width", bx1 - bx0).attr("height", 7.5).attr("fill", "#ffff00");
  T(g, tx, 306, "Exp. 2 \u03c3 uncertainty", { size: 7.3 });
  g.append("rect").attr("x", bx0).attr("y", 311.2).attr("width", bx1 - bx0).attr("height", 7.5).attr("fill", "#d41010");
  g.append("line").attr("x1", bx0).attr("x2", bx1).attr("y1", 315).attr("y2", 315).attr("stroke", "#5a0000").attr("stroke-width", 1.6);
  T(g, tx, 317.7, "Leptophobic Z' (LO x 1.3)", { size: 7.3 });
  R(g, 579, 332.5, [["ATLAS", null, { "font-weight": "bold", "font-style": "italic" }], " Preliminary"], { size: 8.8 });
  T(g, 602, 361, "Combined limits", { size: 10.5, fill: "#3535ff" });
})();

// ================= slide captions =================
T(svg, 26, 277.5, "X \u2192 qV", { size: 22.5, family: "Liberation Sans" });
T(svg, 271, 90.5, "X \u2192 ZZ \u2192 2\u03bd2q", { size: 18.8, family: "Liberation Sans" });
</script>
</body>
</html>
